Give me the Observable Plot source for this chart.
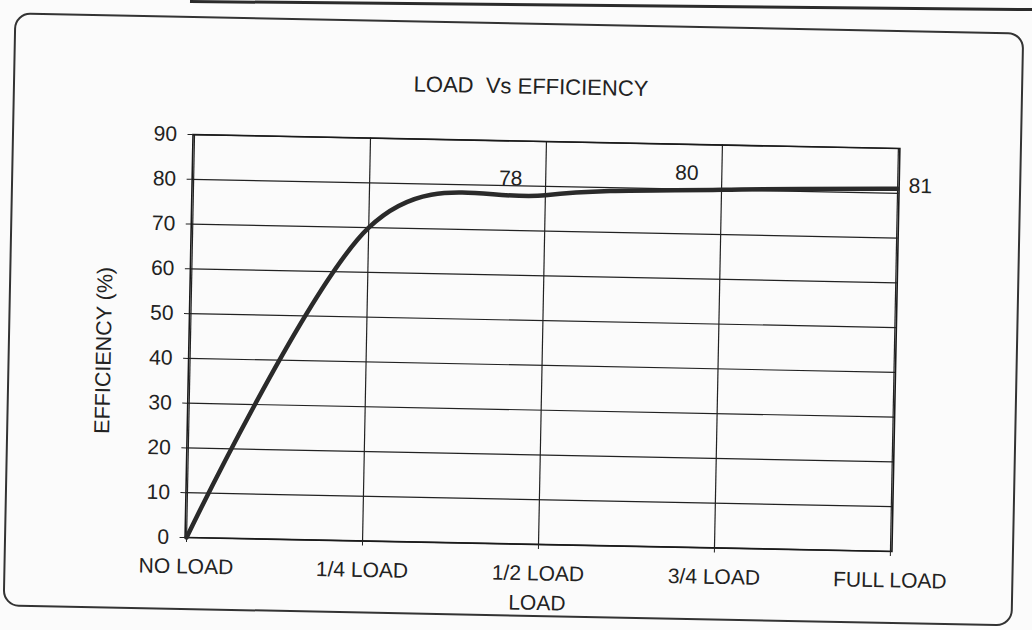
<!DOCTYPE html>
<html>
<head>
<meta charset="utf-8">
<script src="https://cdn.jsdelivr.net/npm/d3@7"></script>
<script src="https://cdn.jsdelivr.net/npm/@observablehq/plot@0.6"></script>
<style>
  html, body { margin: 0; padding: 0; background: #fbfbfb; }
  #page { position: relative; width: 1032px; height: 630px; overflow: hidden;
          font-family: "Liberation Sans", Arial, sans-serif; color: #222; }
  #rot { position: absolute; left: 0; top: 0; width: 1032px; height: 630px;
         transform-origin: 542px 342px; transform: rotate(1.13deg); }
  #box { position: absolute; left: 8px; top: 23px; width: 1010px; height: 594px;
         border: 2px solid #333; border-radius: 16px; box-sizing: border-box; }
  #edge { position: absolute; left: 190px; top: 0px; width: 860px; height: 3px; background: #2a2a2a;
          transform-origin: 0 0; transform: rotate(0.55deg); }
  #title { position: absolute; left: 326px; width: 400px; top: 75px; line-height: 24px;
           text-align: center; font-size: 22px; }
  #ytitle { position: absolute; left: -46px; width: 300px; top: 347px; line-height: 24px;
            text-align: center; font-size: 21.5px; transform: rotate(-90deg); }
  #xtitle { position: absolute; left: 442px; width: 200px; top: 591px; line-height: 24px;
            text-align: center; font-size: 21px; }
  #chart { position: absolute; left: 0; top: 0; }
</style>
</head>
<body>
<div id="page">
  <div id="edge"></div>
  <div id="rot">
    <div id="box"></div>
    <div id="chart"></div>
    <div id="title">LOAD&nbsp; Vs EFFICIENCY</div>
    <div id="ytitle">EFFICIENCY (%)</div>
    <div id="xtitle">LOAD</div>
  </div>
</div>
<script>
// ---- data ----
const loads = ["NO LOAD", "1/4 LOAD", "1/2 LOAD", "3/4 LOAD", "FULL LOAD"];
const efficiency = [0, 70, 78, 80, 81];
const labelledAbove = ["1/2 LOAD", "3/4 LOAD"];
const labelledRight = ["FULL LOAD"];
const yTicks = [0, 10, 20, 30, 40, 50, 60, 70, 80, 90];

const data = loads.map((load, i) => ({ load, eff: efficiency[i] }));

const chart = Plot.plot({
  width: 1032,
  height: 630,
  marginLeft: 188.5,
  marginRight: 136.5,
  marginTop: 141,
  marginBottom: 86,
  style: { fontFamily: "Liberation Sans, Arial, sans-serif", fontSize: "21px", color: "#222", background: "transparent" },
  x: { type: "point", domain: loads, padding: 0 },
  y: { domain: [0, 90] },
  marks: [
    Plot.gridY(yTicks, { stroke: "#222", strokeOpacity: 1, strokeWidth: 1.2 }),
    Plot.gridX(loads, { stroke: "#222", strokeOpacity: 1, strokeWidth: 1.2 }),
    Plot.frame({ stroke: "#1a1a1a", strokeWidth: 1.6 }),
    Plot.axisY(yTicks, { tickSize: 5, tickPadding: 11, fontSize: 21, label: null }),
    Plot.axisX(loads, { tickSize: 5, tickPadding: 16, fontSize: 21, label: null }),
    Plot.line(data, { x: "load", y: "eff", curve: "cardinal", tension: 0, stroke: "#2a2a2a", strokeWidth: 4.5 }),
    Plot.text(data.filter(d => labelledAbove.includes(d.load)),
      { x: "load", y: "eff", text: d => String(d.eff), dx: -35, dy: -16, fontSize: 21, fill: "#222" }),
    Plot.text(data.filter(d => labelledRight.includes(d.load)),
      { x: "load", y: "eff", text: d => String(d.eff), dx: 11, dy: -3, textAnchor: "start", fontSize: 21, fill: "#222" })
  ]
});
document.getElementById("chart").appendChild(chart);
</script>
</body>
</html>
